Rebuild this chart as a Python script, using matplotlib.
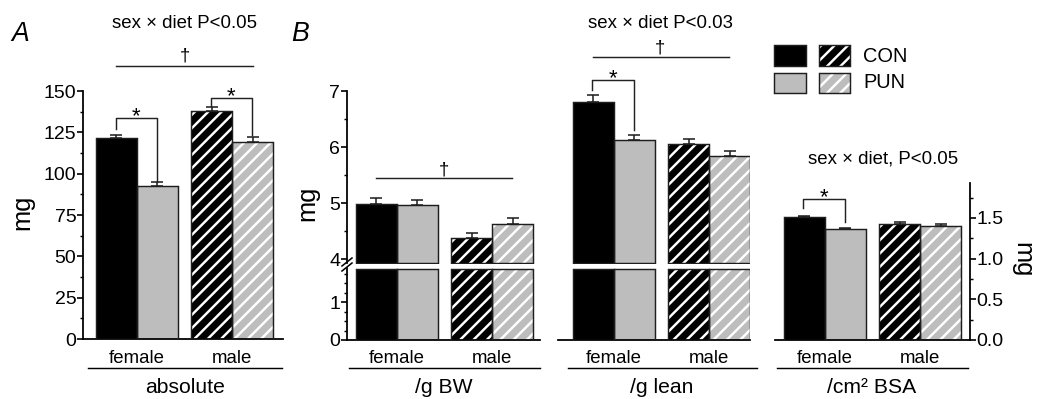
import matplotlib
matplotlib.use("Agg")
import matplotlib.pyplot as plt
from matplotlib.patches import Rectangle
from matplotlib.lines import Line2D
import matplotlib.transforms as mtrans

# ---------------- data ----------------
groups = ["female", "male"]
diets = ["CON", "PUN"]
# order: female CON, female PUN, male CON, male PUN
abs_mean = [121.6, 92.7, 138.1, 119.0]
abs_err = [1.6, 2.1, 2.4, 3.2]
bw_mean = [4.98, 4.96, 4.37, 4.62]
bw_err = [0.11, 0.10, 0.09, 0.12]
lean_mean = [6.81, 6.12, 6.05, 5.84]
lean_err = [0.11, 0.09, 0.09, 0.09]
bsa_mean = [1.51, 1.36, 1.43, 1.405]
bsa_err = [0.02, 0.02, 0.02, 0.02]
panel_labels = ["absolute", "/g BW", "/g lean", "/cm² BSA"]

# ---------------- style ----------------
W, H, DPI = 1038, 399, 80
plt.rcParams["font.family"] = ["Liberation Sans", "DejaVu Sans"]
plt.rcParams["hatch.linewidth"] = 2.2
GRAY = "#bdbdbd"
EDGE = "#1e1e1e"
FACES = ["black", GRAY, "black", GRAY]
HATCH = [None, None, "//", "//"]
POS = [0, 1, 2.33, 3.33]
GROUP_X = [0.5, 2.83]
PXU = 41.0  # pixels per x unit
TICK_FS = 17.5
LAB_FS = 16.8
GRP_FS = 19
STAR_FS = 20
SPW = 1.6

fig = plt.figure(figsize=(W / DPI, H / DPI), dpi=DPI)


def rect(l, t, r, b):
    return [l / W, 1 - b / H, (r - l) / W, (b - t) / H]


def make_ax(l, t, r, b, c0, ylim, spines):
    ax = fig.add_axes(rect(l, t, r, b))
    ax.set_xlim((l - c0) / PXU, (r - c0) / PXU)
    ax.set_ylim(*ylim)
    ax.patch.set_alpha(0)
    for s in ["left", "right", "top", "bottom"]:
        ax.spines[s].set_visible(s in spines)
        ax.spines[s].set_linewidth(SPW)
        ax.spines[s].set_color("black")
    ax.tick_params(axis="x", which="both", bottom=False, labelbottom=False)
    ax.tick_params(axis="y", which="both", left=False, right=False,
                   labelleft=False, labelright=False)
    return ax


def y_ticks(ax, major, minor, labels, side="left"):
    ax.set_yticks(major)
    ax.set_yticks(minor, minor=True)
    ax.set_yticklabels(labels)
    kw = {side: True, "label" + side: True}
    ax.tick_params(axis="y", which="major", length=5, width=1.5,
                   labelsize=TICK_FS, pad=1, **kw)
    ax.tick_params(axis="y", which="minor", length=3, width=1.3, **kw)


def bars(ax, tops, bottom=0.0, errs=None):
    for i in range(4):
        h = HATCH[i]
        ax.bar(POS[i], tops[i] - bottom, bottom=bottom, width=1.0,
               color=FACES[i], hatch=h,
               edgecolor=("white" if h else FACES[i]), linewidth=0, zorder=2)
        ax.bar(POS[i], tops[i] - bottom, bottom=bottom, width=1.0,
               fill=False, edgecolor=EDGE, linewidth=1.3, zorder=3)
    if errs is not None:
        ax.errorbar(POS, tops, yerr=[[0] * 4, errs], fmt="none", ecolor=EDGE,
                    elinewidth=1.4, capsize=5.5, capthick=1.4, zorder=1)


def ftext(x, y, s, **kw):
    fig.text(x / W, 1 - y / H, s, **kw)


def fline(xs, ys, lw=1.3, color="#222222"):
    fig.add_artist(Line2D([x / W for x in xs], [1 - y / H for y in ys],
                          lw=lw, color=color))


def star(x, y):
    ftext(x, y, "*", ha="center", va="baseline", fontsize=STAR_FS)


def under_labels(ax, line_x0, line_x1, label, cx):
    tr = mtrans.blended_transform_factory(ax.transData, fig.transFigure)
    for gx, g in zip(GROUP_X, groups):
        ax.text(gx, 1 - 363 / H, g, transform=tr, ha="center", va="baseline",
                fontsize=LAB_FS)
    fline([line_x0, line_x1], [368, 368], lw=1.3, color="black")
    ftext(cx, 393, label, ha="center", va="baseline", fontsize=GRP_FS)


# ---------------- panel A: absolute ----------------
axA = make_ax(83, 91, 283, 339, 116, (0, 150), ["left", "bottom"])
bars(axA, abs_mean, 0, abs_err)
y_ticks(axA, [0, 25, 50, 75, 100, 125, 150], [12.5 + 25 * k for k in range(6)],
        ["0", "25", "50", "75", "100", "125", "150"])
under_labels(axA, 88, 282, panel_labels[0], 185)
ftext(22, 212, "mg", rotation=90, ha="center", va="center", fontsize=23)
ftext(20, 41, "A", fontstyle="italic", ha="center", va="baseline", fontsize=24)
ftext(185, 28, "sex × diet P<0.05", ha="center", va="baseline", fontsize=LAB_FS)
ftext(185, 61, "†", ha="center", va="baseline", fontsize=LAB_FS)
fline([116, 253], [66, 66])
fline([116, 116, 157, 157], [129, 118, 118, 182])
star(136.5, 122)
fline([211, 211, 252, 252], [106, 98, 98, 135])
star(231.5, 102)

# ---------------- panel B: /g BW (broken axis) ----------------
BREAK_LO = 3.93
LOW_TOP = 1.87
bw_up = make_ax(347, 91, 540, 264, 376, (3.912, 7), ["left"])
bars(bw_up, bw_mean, BREAK_LO, bw_err)
y_ticks(bw_up, [4, 5, 6, 7], [4.5, 5.5, 6.5], ["4", "5", "6", "7"])
bw_up.spines["left"].set_bounds(3.93, 7)
bw_lo = make_ax(347, 268, 540, 340, 376, (0, 1.895), ["left", "bottom"])
bars(bw_lo, [LOW_TOP] * 4, 0)
y_ticks(bw_lo, [0, 1], [0.25, 0.5, 0.75, 1.25, 1.5, 1.75], ["0", "1"])
fline([342, 352], [266, 258], lw=1.4, color="black")
fline([342, 352], [271, 263], lw=1.4, color="black")
under_labels(bw_lo, 349, 540, panel_labels[1], 444)
ftext(307, 203, "mg", rotation=90, ha="center", va="center", fontsize=23)
ftext(300, 41, "B", fontstyle="italic", ha="center", va="baseline", fontsize=24)
ftext(444, 174, "†", ha="center", va="baseline", fontsize=LAB_FS)
fline([376, 512], [178, 178])

# ---------------- panel B: /g lean (broken axis) ----------------
ln_up = make_ax(558, 91, 750, 264, 593, (3.912, 7), [])
bars(ln_up, lean_mean, BREAK_LO, lean_err)
ln_lo = make_ax(558, 268, 750, 340, 593, (0, 1.895), ["bottom"])
bars(ln_lo, [LOW_TOP] * 4, 0)
under_labels(ln_lo, 568, 757, panel_labels[2], 662)
ftext(660, 28, "sex × diet P<0.03", ha="center", va="baseline", fontsize=LAB_FS)
ftext(660, 52, "†", ha="center", va="baseline", fontsize=LAB_FS)
fline([593, 729], [57, 57])
fline([592, 592, 634, 634], [90, 80, 80, 130])
star(613, 84)

# ---------------- panel B: /cm2 BSA ----------------
axS = make_ax(775, 183, 970, 340, 804, (0, 1.93), ["right", "bottom"])
bars(axS, bsa_mean, 0, bsa_err)
y_ticks(axS, [0, 0.5, 1.0, 1.5], [0.25, 0.75, 1.25, 1.75],
        ["0.0", "0.5", "1.0", "1.5"], side="right")
under_labels(axS, 777, 968, panel_labels[3], 872)
ftext(1022, 260, "mg", rotation=270, ha="center", va="center", fontsize=23)
ftext(883, 164, "sex × diet, P<0.05", ha="center", va="baseline", fontsize=LAB_FS)
fline([803, 803, 845, 845], [208, 199, 199, 222])
star(824, 203)

# ---------------- legend ----------------
def leg_box(l, t, r, b, face, hatch):
    fig.add_artist(Rectangle((l / W, 1 - b / H), (r - l) / W, (b - t) / H,
                             transform=fig.transFigure, facecolor=face,
                             hatch=hatch, edgecolor=("white" if hatch else face),
                             linewidth=0))
    fig.add_artist(Rectangle((l / W, 1 - b / H), (r - l) / W, (b - t) / H,
                             transform=fig.transFigure, fill=False,
                             edgecolor=EDGE, linewidth=1.3))

leg_box(774, 45, 806, 66, "black", None)
leg_box(819, 45, 850, 66, "black", "//")
leg_box(774, 73, 806, 93, GRAY, None)
leg_box(819, 73, 850, 93, GRAY, "//")
ftext(863, 56, diets[0], ha="left", va="center", fontsize=18)
ftext(863, 83, diets[1], ha="left", va="center", fontsize=18)

fig.savefig("out.png", dpi=DPI)
